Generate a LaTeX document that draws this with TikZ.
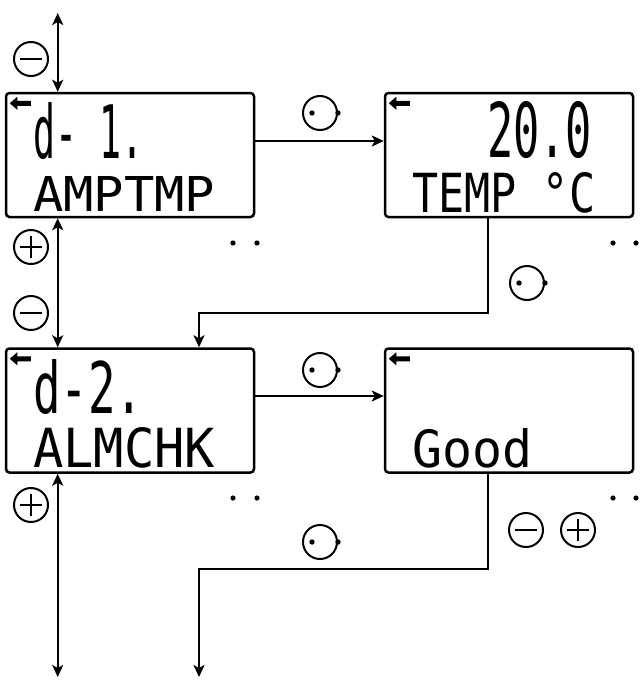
\documentclass[tikz,border=0pt]{standalone}
\usepackage{fontspec}
\usepackage{graphicx}
\setmonofont{DejaVu Sans Mono}
\usetikzlibrary{arrows.meta}
\begin{document}
\begin{tikzpicture}[x=1pt,y=-1pt,
  lcd/.style={draw, line width=2.5pt, rounded corners=3.5pt, minimum width=248pt, minimum height=124pt, inner sep=0pt},
  conn/.style={line width=2pt, -{Stealth[length=12pt,width=11pt,inset=3pt]}},
  dconn/.style={line width=2pt, {Stealth[length=12pt,width=11pt,inset=3pt]}-{Stealth[length=12pt,width=11pt,inset=3pt]}},
  btn/.style={draw, circle, line width=2pt, minimum size=34pt, inner sep=0pt},
  btnminus/.style={btn, path picture={\draw[line width=2pt] ([xshift=-11pt]path picture bounding box.center) -- ([xshift=11pt]path picture bounding box.center);}},
  btnplus/.style={btn, path picture={\draw[line width=2pt] ([xshift=-11pt]path picture bounding box.center) -- ([xshift=11pt]path picture bounding box.center) ([yshift=-11pt]path picture bounding box.center) -- ([yshift=11pt]path picture bounding box.center);}},
  lcdtext/.style={anchor=north west, inner sep=0pt, font=\ttfamily},
  pics/backarrow/.style={code={\fill (5,11.5) -- (12.5,5) -- (12.5,9) -- (26,9) -- (26,14) -- (12.5,14) -- (12.5,18) -- cycle;}}
]
\useasboundingbox (0,0) rectangle (640,680);
\fill[white] (0,0) rectangle (640,680);

% displays
\node[lcd] (b1) at (130,155) {};
\node[lcd] (b2) at (509,155) {};
\node[lcd] (b3) at (130,410.5) {};
\node[lcd] (b4) at (509,410.5) {};
\pic at (b1.north west) {backarrow};
\pic at (b2.north west) {backarrow};
\pic at (b3.north west) {backarrow};
\pic at (b4.north west) {backarrow};

% display texts
\node[lcdtext] (d1) at (33,102) {\resizebox{110pt}{56pt}{d- 1.}};
\node[lcdtext] (n1) at (33,176) {\resizebox{182pt}{35pt}{AMPTMP}};
\node[lcdtext] (d2) at (487,101) {\resizebox{105pt}{56pt}{20.0}};
\node[lcdtext] (n2) at (412,172) {\resizebox{183pt}{40pt}{TEMP °C}};
\node[lcdtext] (d3) at (33,359) {\resizebox{110pt}{54pt}{d-2.}};
\node[lcdtext] (n3) at (33,427) {\resizebox{182pt}{40pt}{ALMCHK}};
\node[lcdtext] (n4) at (412,428) {\resizebox{120pt}{39pt}{Good}};

% coordinates
\coordinate (top) at (57.7,13);
\coordinate (bot) at (57.7,677);
\coordinate (k1) at (488,313);
\coordinate (k2) at (199,313);
\coordinate (k3) at (488,569);
\coordinate (k4) at (199,569);
\coordinate (k5) at (199,677);

% connectors
\draw[dconn] (top) -- (b1.north -| top);
\draw[dconn] (b1.south -| top) -- (b3.north -| top);
\draw[dconn] (b3.south -| bot) -- (bot);
\draw[conn] ([yshift=14pt]b1.east) -- ([yshift=14pt]b2.west);
\draw[conn] ([yshift=14.5pt]b3.east) -- ([yshift=14.5pt]b4.west);
\draw[conn] (b2.south -| k1) -- (k1) -- (k2) -- (b3.north -| k2);
\draw[conn] (b4.south -| k3) -- (k3) -- (k4) -- (k5);

% button labels
\node[btnminus] (m1) at (31,59) {};
\node[btnplus] (p1) at (31,247) {};
\node[btnminus] (m2) at (31,313) {};
\node[btnplus] (p2) at (31,505) {};
\node[btnminus] (m3) at (526,530) {};
\node[btnplus] (p3) at (578,530) {};
\node[btn] (o1) at (320,113) {};
\node[btn] (o2) at (527,283) {};
\node[btn] (o3) at (320,370) {};
\node[btn] (o4) at (320,542) {};
\foreach \o in {o1,o2,o3,o4}{
  \fill ([xshift=-8pt]\o.center) circle (2.7pt);
  \fill (\o.east) circle (2.7pt);
}

% ellipsis dots
\foreach \x/\y [count=\i] in {233/243,257/243,613/243,636/243,233/498,257/498,613/498,636/498}{
  \fill (\x,\y) circle (2.6pt);
}
\end{tikzpicture}
\end{document}
